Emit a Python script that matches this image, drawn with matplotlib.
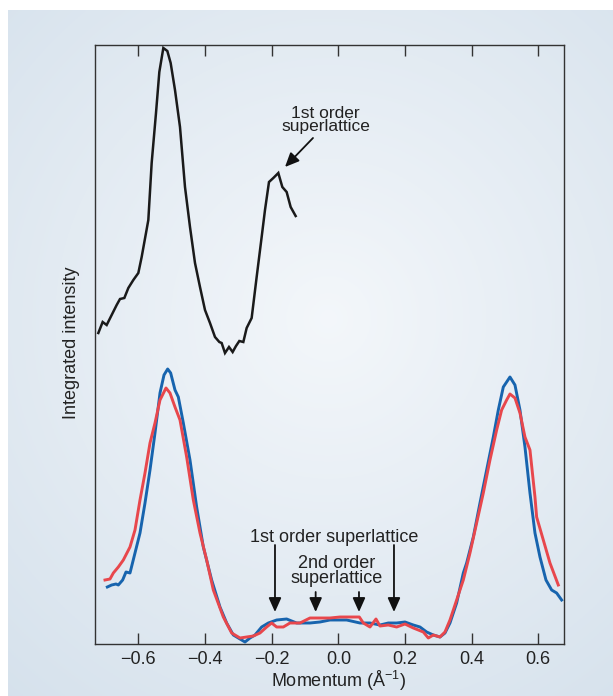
import numpy as np
import matplotlib
matplotlib.use("Agg")
import matplotlib.pyplot as plt

plt.rcParams['font.family'] = ['Liberation Sans', 'DejaVu Sans']

# ---- data (momentum in 1/Å, intensity in arbitrary units) ----
momentum_black = [-0.720, -0.707, -0.695, -0.680, -0.665, -0.655, -0.642, -0.630, -0.615, -0.600,
                  -0.590, -0.577, -0.570, -0.560, -0.547, -0.537, -0.525, -0.513, -0.503, -0.490,
                  -0.475, -0.460, -0.445, -0.430, -0.415, -0.400, -0.385, -0.370, -0.357, -0.350,
                  -0.340, -0.328, -0.317, -0.307, -0.297, -0.285, -0.275, -0.260, -0.245, -0.230,
                  -0.220, -0.208, -0.195, -0.180, -0.168, -0.155, -0.143, -0.128]
intensity_black = [311, 322, 319, 329, 339, 345, 346, 356, 364, 371,
                   387, 411, 424, 481, 531, 572, 596, 593, 581, 554,
                   517, 457, 417, 381, 357, 334, 321, 307, 302, 301,
                   291, 297, 292, 298, 303, 302, 316, 326, 367, 407,
                   434, 462, 466, 471, 457, 452, 437, 428]

momentum_blue = [-0.693, -0.680, -0.667, -0.660, -0.647, -0.637, -0.625, -0.610, -0.595, -0.580,
                 -0.565, -0.550, -0.535, -0.523, -0.512, -0.503, -0.490, -0.480, -0.465, -0.445,
                 -0.425, -0.405, -0.380, -0.355, -0.335, -0.315, -0.295, -0.280, -0.265, -0.250,
                 -0.230, -0.210, -0.185, -0.155, -0.125, -0.085, -0.055, -0.025, 0.025, 0.065,
                 0.095, 0.125, 0.150, 0.175, 0.200, 0.225, 0.245, 0.265, 0.285, 0.305,
                 0.320, 0.335, 0.355, 0.375, 0.385, 0.405, 0.425, 0.445, 0.465, 0.480,
                 0.495, 0.515, 0.530, 0.545, 0.560, 0.575, 0.590, 0.605, 0.623, 0.640,
                 0.655, 0.670]
intensity_blue = [57, 59, 60, 59, 64, 72, 71, 91, 111, 141,
                  174, 211, 251, 269, 275, 271, 254, 247, 221, 184,
                  137, 97, 64, 37, 21, 9, 5, 2, 6, 9,
                  17, 21, 24, 25, 21, 21, 22, 24, 24, 21,
                  21, 19, 21, 21, 22, 19, 17, 12, 9, 7,
                  11, 21, 41, 71, 81, 107, 141, 174, 207, 234,
                  257, 267, 259, 234, 197, 151, 111, 87, 64, 54,
                  51, 44]

momentum_red = [-0.700, -0.685, -0.675, -0.660, -0.645, -0.625, -0.610, -0.595, -0.580, -0.565,
                -0.550, -0.535, -0.517, -0.505, -0.490, -0.475, -0.455, -0.435, -0.415, -0.395,
                -0.375, -0.345, -0.320, -0.295, -0.275, -0.255, -0.235, -0.215, -0.200, -0.185,
                -0.165, -0.145, -0.115, -0.085, -0.055, -0.025, 0.005, 0.025, 0.063, 0.075,
                0.095, 0.113, 0.125, 0.150, 0.175, 0.200, 0.225, 0.255, 0.270, 0.285,
                0.305, 0.320, 0.335, 0.355, 0.375, 0.395, 0.415, 0.435, 0.455, 0.475,
                0.490, 0.505, 0.515, 0.530, 0.545, 0.560, 0.575, 0.590, 0.595, 0.615,
                0.635, 0.660]
intensity_red = [64, 65, 71, 77, 84, 97, 114, 144, 171, 201,
                 221, 244, 256, 251, 237, 224, 187, 144, 111, 84,
                 54, 27, 11, 6, 7, 8, 11, 17, 21, 17,
                 17, 21, 21, 26, 26, 26, 27, 27, 27, 21,
                 17, 25, 18, 19, 17, 20, 16, 12, 6, 9,
                 7, 12, 24, 44, 64, 91, 121, 151, 184, 214,
                 234, 244, 250, 246, 231, 207, 194, 147, 127, 104,
                 81, 59]

xticks = [-0.6, -0.4, -0.2, 0.0, 0.2, 0.4, 0.6]
xtick_labels = ['\u22120.6', '\u22120.4', '\u22120.2', '0.0', '0.2', '0.4', '0.6']
first_order_top = -0.160
first_order_bottom = [-0.190, 0.167]
second_order_bottom = [-0.068, 0.062]

W, H = 613, 696
fig = plt.figure(figsize=(W / 100, H / 100), dpi=100)
fig.patch.set_facecolor('white')

# background panel with radial gradient
bg = fig.add_axes([8 / W, 0, (W - 8) / W, (H - 10) / H])
bg.set_axis_off()
gy, gx = np.mgrid[0:300, 0:300]
cx, cy = 0.53, 0.45
r = np.sqrt(((gx / 299) - cx) ** 2 * 0.8 + ((gy / 299) - cy) ** 2)
r = np.clip(r / 0.75, 0, 1)
c_in = np.array([0.955, 0.968, 0.982])
c_out = np.array([0.835, 0.882, 0.925])
img = c_in[None, None, :] * (1 - r[..., None]) + c_out[None, None, :] * r[..., None]
bg.imshow(img, aspect='auto', extent=[0, 1, 0, 1], origin='upper')
bg.set_xlim(0, 1)
bg.set_ylim(0, 1)

ax = fig.add_axes([95 / W, (H - 644) / H, (564.3 - 95) / W, (644 - 45) / H])
ax.patch.set_alpha(0)
ax.plot(momentum_black, intensity_black, color='#1a1a1a', lw=1.8, solid_joinstyle='miter')
ax.plot(momentum_blue, intensity_blue, color='#1764ae', lw=2.1)
ax.plot(momentum_red, intensity_red, color='#e8474c', lw=2.1)

ax.set_xlim(-0.730, 0.678)
ax.set_ylim(0, 599)
ax.set_xticks(xticks)
ax.set_xticklabels(xtick_labels)
ax.set_yticks([])
ax.tick_params(axis='x', direction='in', length=8, width=1.0, top=True, bottom=True,
               labelsize=13, pad=5, colors='#333333', labelcolor='#222222')
for s in ax.spines.values():
    s.set_color('#333333')
    s.set_linewidth(1.0)

fig.text(338 / W, 1 - 681 / H, 'Momentum (Å$^{\\mathregular{\u22121}}$)', fontsize=13,
         color='#222222', ha='center', va='center')
fig.text(72 / W, 1 - 343 / H, 'Integrated intensity', fontsize=13, color='#222222',
         ha='center', va='center', rotation=90)

arrow = dict(arrowstyle='-|>,head_length=0.85,head_width=0.38', color='#111111', lw=1.3,
             shrinkA=0, shrinkB=0)

# top annotation
ax.text(-0.038, 524, '1st order\nsuperlattice', ha='center', va='center', fontsize=12.5,
        color='#222222', linespacing=0.85)
ax.annotate('', xy=(first_order_top, 477), xytext=(-0.076, 506), arrowprops=arrow)

# bottom annotations
ax.text(-0.012, 107, '1st order superlattice', ha='center', va='center', fontsize=13,
        color='#222222')
for xm in first_order_bottom:
    ax.annotate('', xy=(xm, 32), xytext=(xm, 99), arrowprops=arrow)
ax.text(-0.005, 73, '2nd order\nsuperlattice', ha='center', va='center', fontsize=13,
        color='#222222', linespacing=0.85)
for xm in second_order_bottom:
    ax.annotate('', xy=(xm, 32), xytext=(xm, 52), arrowprops=arrow)

fig.savefig('out.png', dpi=100, facecolor=fig.get_facecolor())
